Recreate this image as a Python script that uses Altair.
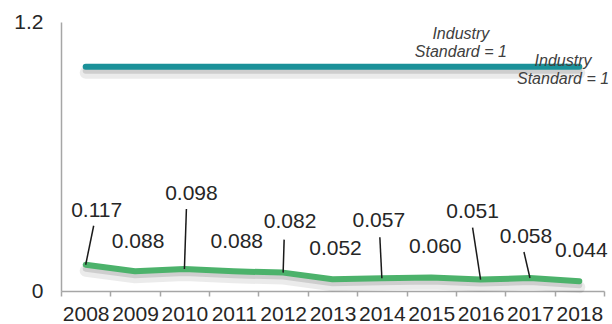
import altair as alt
import pandas as pd

# ---- data ----
years = list(range(2008, 2019))
values = [0.117, 0.088, 0.098, 0.088, 0.082, 0.052, 0.057, 0.060, 0.051, 0.058, 0.044]
standard = [1, 1, 1, 1, 1, 1, 1, 1, 1, 1, 1]
value_labels = ["0.117", "0.088", "0.098", "0.088", "0.082", "0.052",
                "0.057", "0.060", "0.051", "0.058", "0.044"]
standard_text = "Industry\nStandard = 1"

# ---- annotation layout (pixel offsets from each point) ----
label_dx = [11, 3, 7, 3, 7, 3, -3, 4, -8, -4, 2]
label_dy = [-54, -29, -75, -29, -51, -30, -57, -31, -68, -41, -30]
leader_years = [2008, 2010, 2012, 2014, 2016, 2017]
leader_dx = [8, 2, 1, -2, -8, -6]
leader_dy = [-39, -60, -33, -41, -52, -26]
std_label_x = [2015.6, 2017.67]
std_label_y = [1.148, 1.028]

W, H = 543, 269
XMIN, XMAX = 2007.5, 2018.5
YMAX = 1.2
PX_X = (XMAX - XMIN) / W
PX_Y = YMAX / H

df = pd.DataFrame({"year": years, "value": values, "standard": standard,
                   "label": value_labels, "dx": label_dx, "dy": label_dy})
lead = df[df["year"].isin(leader_years)].copy()
lead["ldx"] = leader_dx
lead["ldy"] = leader_dy
std_df = pd.DataFrame({"year": std_label_x, "value": std_label_y, "t": [standard_text] * 2})

xscale = alt.Scale(domain=[XMIN, XMAX], nice=False, zero=False)
yscale = alt.Scale(domain=[0, YMAX], nice=False)

xaxis = alt.Axis(values=[XMIN + i for i in range(12)],
                 labelExpr="datum.value > 2018 ? '' : format(datum.value + 0.5, 'd')",
                 labelOffset=W / 11 / 2, labelFlush=False, labelOverlap=False,
                 labelBound=False, grid=False, tickSize=5, tickColor="#a6a6a6",
                 domainColor="#a6a6a6", domainWidth=1.5, tickWidth=1.5,
                 labelFontSize=21, labelColor="#262626", labelFont="Liberation Sans",
                 labelPadding=7, title=None)
yaxis = alt.Axis(values=[0, 1.2],
                 labelExpr="datum.value == 0 ? '0' : format(datum.value, '.1f')",
                 ticks=False, grid=False, domainColor="#a6a6a6", domainWidth=1.5,
                 labelFontSize=21, labelColor="#262626", labelFont="Liberation Sans",
                 labelPadding=18, title=None)


def X(field):
    return alt.X(field, type="quantitative", scale=xscale, axis=xaxis)


def Y(field):
    return alt.Y(field, type="quantitative", scale=yscale, axis=yaxis)


base = alt.Chart(df)

shadow_std1 = base.transform_calculate(sy=f"datum.standard - 6*{PX_Y}").mark_line(
    color="#000000", opacity=0.08, strokeWidth=12, strokeCap="round"
).encode(x=X("year"), y=Y("sy"))
shadow_std2 = base.transform_calculate(sy=f"datum.standard - 4*{PX_Y}").mark_line(
    color="#000000", opacity=0.12, strokeWidth=6, strokeCap="round"
).encode(x=X("year"), y=Y("sy"))
shadow_v1 = base.transform_calculate(sy=f"datum.value - 6*{PX_Y}").mark_line(
    color="#000000", opacity=0.08, strokeWidth=12, strokeCap="round", strokeJoin="round"
).encode(x=X("year"), y=Y("sy"))
shadow_v2 = base.transform_calculate(sy=f"datum.value - 4*{PX_Y}").mark_line(
    color="#000000", opacity=0.12, strokeWidth=6, strokeCap="round", strokeJoin="round"
).encode(x=X("year"), y=Y("sy"))

std_line = base.mark_line(color="#1b9199", strokeWidth=6, strokeCap="round").encode(
    x=X("year"), y=Y("standard"))
val_line = base.mark_line(color="#4cb26b", strokeWidth=6, strokeCap="round",
                          strokeJoin="round").encode(x=X("year"), y=Y("value"))

leaders = alt.Chart(lead).transform_calculate(
    x2v=f"datum.year + datum.ldx*{PX_X}", y2v=f"datum.value - datum.ldy*{PX_Y}"
).mark_rule(color="#1a1a1a", strokeWidth=1.5).encode(
    x=X("year"), y=Y("value"), x2="x2v:Q", y2="y2v:Q")

labels = base.transform_calculate(
    lx=f"datum.year + datum.dx*{PX_X}", ly=f"datum.value - datum.dy*{PX_Y}"
).mark_text(fontSize=21, font="Liberation Sans", color="#262626",
            align="center", baseline="middle").encode(
    x=X("lx"), y=Y("ly"), text="label:N")

std_labels = alt.Chart(std_df).mark_text(
    fontSize=16, font="Liberation Sans", fontStyle="italic", color="#404040",
    align="center", baseline="middle", lineBreak="\n", lineHeight=18).encode(
    x=X("year"), y=Y("value"), text="t:N")

chart = alt.layer(shadow_std1, shadow_std2, shadow_v1, shadow_v2, std_line, val_line,
                  leaders, labels, std_labels).properties(
    width=W, height=H,
    autosize=alt.AutoSizeParams(type="none"),
    padding={"left": 61, "top": 22, "right": 8, "bottom": 33},
    background="white",
).configure_view(stroke=None)

chart.save("out.html", embed_options={"renderer": "svg", "actions": False})
